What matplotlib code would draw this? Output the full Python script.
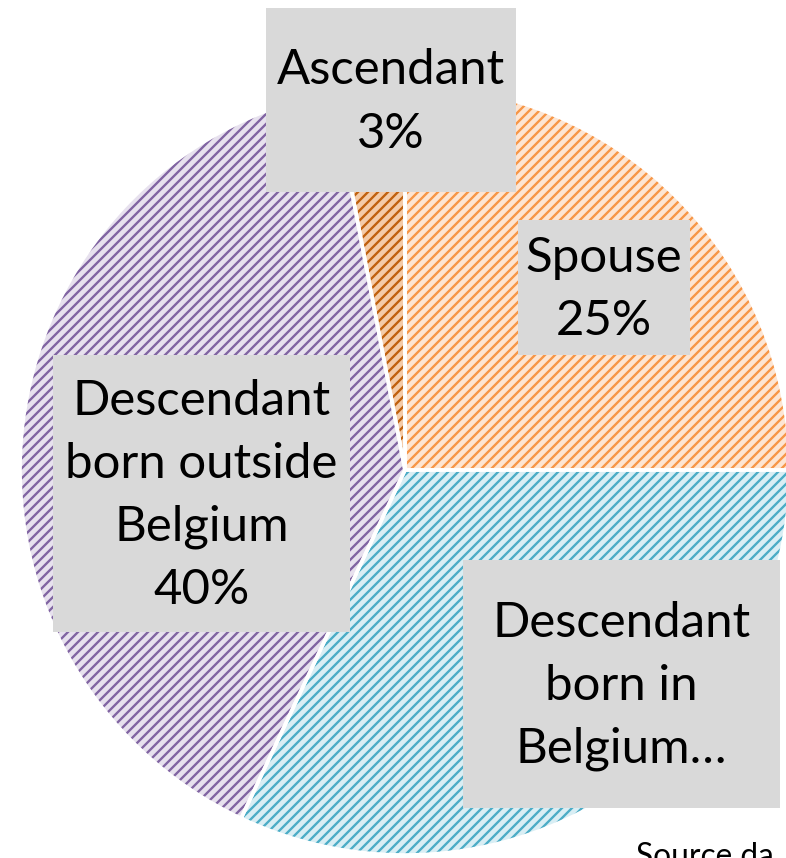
import matplotlib.pyplot as plt
from matplotlib.patches import Rectangle

plt.rcParams['font.family'] = ['Lato', 'DejaVu Sans']
plt.rcParams['hatch.linewidth'] = 1.4

labels = ['Spouse\n25%', 'Descendant\nborn in\nBelgium\u2026',
          'Descendant\nborn outside\nBelgium\n40%', 'Ascendant\n3%']
values = [25, 32, 40, 3]
face_colors = ['#FDE5D2', '#D9EEF4', '#E7E1EE', '#F4CBA8']
hatch_colors = ['#F79646', '#4BACC6', '#8064A2', '#C0600E']

# label boxes in image pixels: left, top, width, height
boxes = [(518, 220, 172, 135), (463, 560, 317, 248),
         (53, 355, 297, 277), (266, 8, 250, 184)]

W, H = 786, 858
dpi = 120
fig = plt.figure(figsize=(W / dpi, H / dpi), dpi=dpi)
ax = fig.add_axes([0, 0, 1, 1])

center = (405, H - 470)
wedges, _ = ax.pie(values, colors=face_colors, startangle=90, counterclock=False,
                   center=center, radius=385, frame=True)
for w, hc in zip(wedges, hatch_colors):
    w.set_hatch('////')
    w.set_edgecolor(hc)
    w.set_linewidth(0)

# white separators
ax.pie(values, startangle=90, counterclock=False, center=center, radius=385,
       frame=True, wedgeprops=dict(fill=False, edgecolor='white', linewidth=2.2))
ax.set_xlim(0, W)
ax.set_ylim(0, H)
ax.set_aspect('equal')
ax.axis('off')

for lab, (x, y, bw, bh) in zip(labels, boxes):
    ax.add_patch(Rectangle((x, H - y - bh), bw, bh, facecolor='#D9D9D9',
                           edgecolor='none', zorder=5))
    ax.text(x + bw / 2, H - y - bh / 2 - 2, lab, ha='center', va='center',
            fontsize=29.5, linespacing=1.53, color='black', zorder=6)

ax.text(636, H - 842, 'Source da', ha='left', va='top', fontsize=19, color='black')

fig.savefig('out.png', dpi=dpi)
